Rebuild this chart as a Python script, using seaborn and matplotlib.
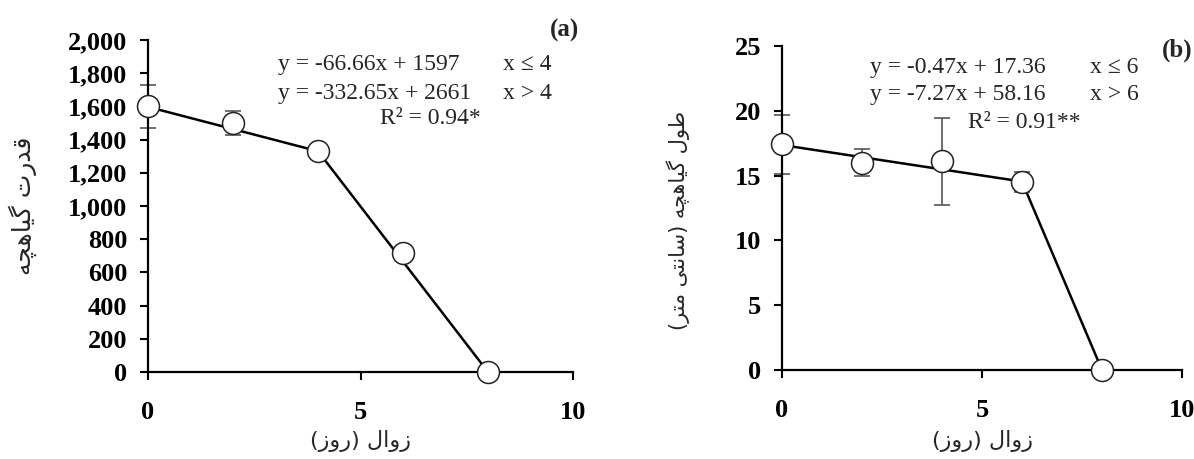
import numpy as np
import pandas as pd
import matplotlib
matplotlib.use("Agg")
import matplotlib.pyplot as plt
import seaborn as sns
from matplotlib.ticker import StrMethodFormatter

# Data
days = [0, 2, 4, 6, 8]

# (a) seedling vigour
vigor_mean = [1600, 1500, 1330, 715, 0]
vigor_err = [130, 75, 45, 30, 0]
vigor_fit_x = [0, 4, 8]
vigor_fit_y = [1597, 1330, 0]

# (b) seedling length (cm)
length_mean = [17.4, 16.0, 16.1, 14.5, 0]
length_err = [2.3, 1.05, 3.35, 0.8, 0]
length_fit_x = [0, 6, 8]
length_fit_y = [17.36, 14.54, 0]

eq_a = ["y = -66.66x + 1597", "y = -332.65x + 2661"]
cond_a = ["x \u2264 4", "x > 4"]
r2_a = "R\u00b2 = 0.94*"
eq_b = ["y = -0.47x + 17.36", "y = -7.27x + 58.16"]
cond_b = ["x \u2264 6", "x > 6"]
r2_b = "R\u00b2 = 0.91**"

# Persian labels, pre-shaped (presentation forms, visual order)
# قدرت گیاهچه
ylab_a = "\uFEEA\uFB7D\uFEEB\uFE8E\uFBFF\uFB94 \uFE95\uFEAD\uFEAA\uFED7"
# طول گیاهچه (سانتی متر)
ylab_b = "(\uFEAE\uFE98\uFEE3 \uFBFD\uFE98\uFEE7\uFE8E\uFEB3) \uFEEA\uFB7D\uFEEB\uFE8E\uFBFF\uFB94 \uFEDD\uFEEE\uFEC3"
# زوال (روز)
xlab = "(\uFEAF\uFEED\uFEAD) \uFEDD\uFE8D\uFEED\uFEAF"

sns.set_style("ticks")
plt.rcParams["font.family"] = ["Liberation Serif", "DejaVu Serif"]

fig = plt.figure(figsize=(11.94, 4.59), dpi=100)
ax_a = fig.add_axes([148 / 1194, 87 / 459, 425 / 1194, 332 / 459])
ax_b = fig.add_axes([782 / 1194, 89 / 459, 400 / 1194, 324 / 459])


def draw_panel(ax, mean, err, fit_x, fit_y):
    ax.errorbar(days, mean, yerr=err, fmt="none", ecolor="#555555",
                elinewidth=1.2, capsize=6, capthick=1.2, zorder=2, clip_on=False)
    fit = pd.DataFrame({"x": fit_x, "y": fit_y})
    sns.lineplot(data=fit, x="x", y="y", ax=ax, color="black", linewidth=1.8,
                 zorder=3, clip_on=False)
    pts = pd.DataFrame({"x": days, "y": mean})
    sns.scatterplot(data=pts, x="x", y="y", ax=ax, s=250, color="white",
                    edgecolor="#222222", linewidth=1.1, zorder=4, clip_on=False)
    ax.set_xlim(0, 10)
    ax.set_xticks([0, 5, 10])
    sns.despine(ax=ax)
    for s in ["left", "bottom"]:
        ax.spines[s].set_linewidth(1.6)
        ax.spines[s].set_color("black")
    ax.tick_params(axis="both", direction="out", length=6, width=1.5,
                   colors="black", labelsize=19)
    ax.tick_params(axis="y", pad=9)
    ax.tick_params(axis="x", pad=15)
    ax.set_xlabel(xlab, fontsize=16, family=["DejaVu Sans"])


draw_panel(ax_a, vigor_mean, vigor_err, vigor_fit_x, vigor_fit_y)
ax_a.set_ylim(0, 2000)
ax_a.set_yticks(np.arange(0, 2001, 200))
ax_a.yaxis.set_major_formatter(StrMethodFormatter("{x:,.0f}"))
ax_a.set_ylabel(ylab_a, fontsize=18, family=["DejaVu Sans"])
ax_a.yaxis.set_label_coords(-0.261, 0.5)
ax_a.xaxis.set_label_coords(0.5, -0.175)

draw_panel(ax_b, length_mean, length_err, length_fit_x, length_fit_y)
ax_b.set_ylim(0, 25)
ax_b.set_yticks([0, 5, 10, 15, 20, 25])
ax_b.set_ylabel(ylab_b, fontsize=15, family=["DejaVu Sans"])
ax_b.yaxis.set_label_coords(-0.23, 0.463)
ax_b.xaxis.set_label_coords(0.5, -0.185)

for ax in [ax_a, ax_b]:
    for lab in ax.get_xticklabels() + ax.get_yticklabels():
        lab.set_fontweight("bold")

# equations and panel letters
for ax, eqs, conds, r2, xe, xc, xr, ys, letter, lpos in [
    (ax_a, eq_a, cond_a, r2_a, 0.306, 0.835, 0.546, [0.925, 0.840, 0.765], "(a)", (0.981, 1.03)),
    (ax_b, eq_b, cond_b, r2_b, 0.22, 0.77, 0.465, [0.935, 0.849, 0.765], "(b)", (0.9875, 0.988)),
]:
    for i in range(2):
        ax.text(xe, ys[i], eqs[i], transform=ax.transAxes, fontsize=17,
                ha="left", va="center")
        ax.text(xc, ys[i], conds[i], transform=ax.transAxes, fontsize=17,
                ha="left", va="center")
    ax.text(xr, ys[2], r2, transform=ax.transAxes, fontsize=17,
            ha="left", va="center")
    ax.text(lpos[0], lpos[1], letter, transform=ax.transAxes, fontsize=18,
            fontweight="bold", ha="center", va="center")

fig.savefig("out.png", dpi=100)
